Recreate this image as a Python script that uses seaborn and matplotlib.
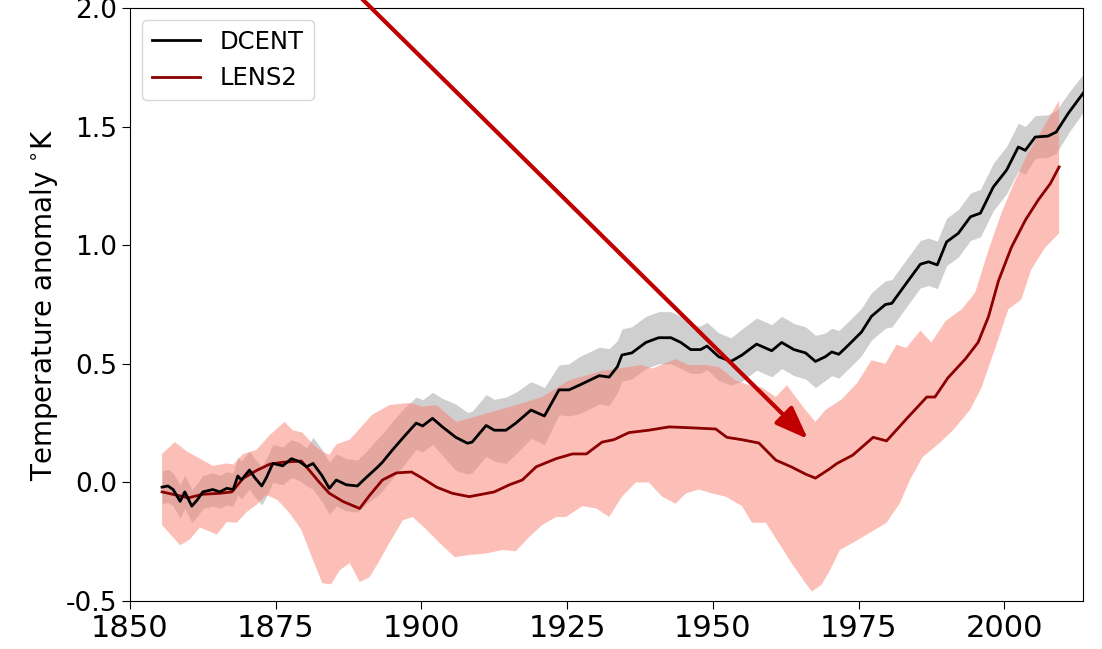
import numpy as np
import pandas as pd
import matplotlib
matplotlib.use("Agg")
import matplotlib.pyplot as plt
import seaborn as sns

# ---------------- data ----------------
dcent_year = [1855.5, 1856.5, 1857.4, 1858.6, 1859.4, 1860.6, 1861.5, 1862.5, 1864.2, 1865.4,
              1866.6, 1867.7, 1868.5, 1869.1, 1870.5, 1871.4, 1872.6, 1873.4, 1874.5, 1876.2,
              1877.7, 1879.1, 1880.3, 1881.4, 1882.9, 1884.2, 1885.4, 1887.1, 1889.0, 1890.5,
              1892.5, 1893.3, 1895.0, 1896.8, 1899.1, 1900.2, 1901.9, 1903.6, 1905.9, 1907.9,
              1908.7, 1911.1, 1912.5, 1914.5, 1916.2, 1918.8, 1921.1, 1923.6, 1925.3, 1927.1,
              1928.8, 1930.5, 1932.2, 1933.6, 1934.4, 1936.1, 1938.5, 1940.7, 1942.8, 1944.5,
              1946.2, 1947.9, 1949.0, 1951.0, 1953.1, 1955.0, 1957.5, 1960.1, 1961.8, 1963.9,
              1965.9, 1967.6, 1969.3, 1970.4, 1971.6, 1973.3, 1975.5, 1977.2, 1979.6, 1980.7,
              1983.2, 1985.6, 1987.0, 1988.5, 1990.1, 1992.1, 1994.2, 1995.9, 1998.1, 2000.4,
              2002.4, 2003.6, 2005.3, 2007.5, 2008.9, 2011.0, 2013.5]
dcent_val = [-0.02, -0.015, -0.03, -0.08, -0.04, -0.10, -0.075, -0.04, -0.03, -0.04,
             -0.025, -0.03, 0.027, 0.01, 0.052, 0.02, -0.015, 0.02, 0.08, 0.07,
             0.10, 0.087, 0.066, 0.08, 0.03, -0.025, 0.01, -0.01, -0.015, 0.02,
             0.065, 0.085, 0.136, 0.187, 0.25, 0.238, 0.27, 0.234, 0.19, 0.165,
             0.17, 0.24, 0.22, 0.22, 0.25, 0.305, 0.28, 0.39, 0.39, 0.41,
             0.43, 0.45, 0.444, 0.487, 0.537, 0.546, 0.59, 0.61, 0.61, 0.59,
             0.56, 0.56, 0.575, 0.53, 0.51, 0.537, 0.583, 0.555, 0.59, 0.56,
             0.546, 0.51, 0.53, 0.55, 0.54, 0.58, 0.634, 0.70, 0.75, 0.755,
             0.84, 0.92, 0.93, 0.917, 1.014, 1.05, 1.12, 1.135, 1.245, 1.317,
             1.414, 1.40, 1.456, 1.46, 1.477, 1.557, 1.64]
dcent_err = [0.07, 0.07, 0.07, 0.07, 0.07, 0.07, 0.07, 0.07, 0.07, 0.07,
             0.07, 0.07, 0.08, 0.08, 0.08, 0.08, 0.08, 0.08, 0.08, 0.08,
             0.08, 0.08, 0.08, 0.11, 0.11, 0.11, 0.11, 0.11, 0.11, 0.11,
             0.12, 0.12, 0.12, 0.12, 0.11, 0.11, 0.11, 0.12, 0.14, 0.13,
             0.13, 0.13, 0.13, 0.14, 0.13, 0.12, 0.12, 0.105, 0.11, 0.12,
             0.12, 0.12, 0.12, 0.11, 0.11, 0.11, 0.11, 0.11, 0.11, 0.11,
             0.10, 0.10, 0.10, 0.10, 0.10, 0.11, 0.11, 0.11, 0.11, 0.11,
             0.11, 0.11, 0.10, 0.10, 0.10, 0.10, 0.10, 0.10, 0.10, 0.10,
             0.10, 0.10, 0.10, 0.10, 0.10, 0.10, 0.10, 0.10, 0.10, 0.10,
             0.10, 0.10, 0.09, 0.09, 0.09, 0.085, 0.08]

lens2_year = [1855.5, 1858.6, 1860.0, 1862.5, 1865.4, 1867.5, 1869.4, 1871.7, 1874.0, 1876.2,
              1879.4, 1880.8, 1882.5, 1884.2, 1886.5, 1889.4, 1891.1, 1893.3, 1895.7, 1898.3,
              1900.2, 1902.6, 1905.3, 1908.2, 1910.4, 1912.5, 1915.1, 1917.3, 1919.7, 1923.1,
              1925.9, 1928.3, 1931.0, 1933.0, 1935.6, 1939.0, 1942.5, 1946.4, 1950.5, 1952.4,
              1955.0, 1957.9, 1960.8, 1963.5, 1965.9, 1967.6, 1969.9, 1971.3, 1974.0, 1977.5,
              1979.8, 1983.3, 1986.7, 1988.1, 1990.3, 1993.3, 1995.5, 1997.3, 1999.0, 2001.2,
              2003.6, 2005.8, 2007.9, 2009.4]
lens2_val = [-0.04, -0.057, -0.065, -0.05, -0.046, -0.04, 0.017, 0.05, 0.077, 0.085,
             0.09, 0.05, 0.0, -0.046, -0.08, -0.11, -0.055, 0.01, 0.04, 0.044,
             0.017, -0.02, -0.046, -0.06, -0.05, -0.04, -0.01, 0.01, 0.066, 0.10,
             0.12, 0.12, 0.17, 0.18, 0.21, 0.22, 0.234, 0.23, 0.225, 0.19,
             0.18, 0.166, 0.094, 0.065, 0.035, 0.018, 0.055, 0.08, 0.115, 0.19,
             0.175, 0.27, 0.36, 0.36, 0.44, 0.52, 0.59, 0.70, 0.85, 0.99,
             1.105, 1.19, 1.26, 1.33]

lens2_hi_year = [1855.5, 1857.7, 1859.8, 1862.0, 1864.2, 1866.6, 1867.7, 1869.4, 1871.7, 1874.0,
                 1876.5, 1877.9, 1879.6, 1881.4, 1883.0, 1884.2, 1885.4, 1887.7, 1889.9, 1891.5,
                 1894.5, 1897.9, 1900.2, 1902.6, 1906.0, 1908.2, 1913.9, 1916.8, 1920.7, 1925.3,
                 1931.0, 1933.6, 1935.6, 1937.8, 1939.6, 1943.6, 1945.9, 1948.8, 1951.0, 1953.9,
                 1956.2, 1958.4, 1960.8, 1962.7, 1964.2, 1965.9, 1967.6, 1969.3, 1972.1, 1974.8,
                 1977.2, 1979.6, 1981.5, 1983.2, 1985.6, 1987.5, 1989.9, 1992.7, 1995.0, 1997.3,
                 1999.5, 2001.9, 2004.1, 2006.3, 2009.4]
lens2_hi_val = [0.12, 0.17, 0.13, 0.10, 0.07, 0.08, 0.075, 0.12, 0.137, 0.20,
                0.255, 0.22, 0.21, 0.16, 0.13, 0.116, 0.16, 0.18, 0.24, 0.284,
                0.326, 0.335, 0.32, 0.326, 0.255, 0.27, 0.31, 0.33, 0.36, 0.43,
                0.47, 0.48, 0.487, 0.495, 0.48, 0.52, 0.495, 0.495, 0.487, 0.43,
                0.41, 0.40, 0.36, 0.41, 0.36, 0.305, 0.255, 0.305, 0.35, 0.42,
                0.515, 0.50, 0.58, 0.567, 0.64, 0.59, 0.68, 0.73, 0.80, 0.98,
                1.135, 1.275, 1.39, 1.48, 1.61]

lens2_lo_year = [1855.5, 1858.6, 1860.3, 1862.0, 1864.9, 1866.6, 1868.3, 1870.0, 1871.7, 1873.4,
                 1875.3, 1877.4, 1879.4, 1881.2, 1883.0, 1884.5, 1886.0, 1887.7, 1889.4, 1891.1,
                 1892.8, 1894.5, 1896.8, 1898.5, 1900.9, 1903.1, 1905.7, 1908.2, 1911.1, 1913.9,
                 1916.2, 1918.5, 1920.7, 1923.1, 1924.8, 1927.6, 1930.0, 1932.2, 1934.4, 1936.8,
                 1939.0, 1941.3, 1943.6, 1945.4, 1947.6, 1949.8, 1952.2, 1955.0, 1956.7, 1959.1,
                 1961.3, 1963.5, 1965.9, 1967.0, 1968.7, 1970.1, 1971.8, 1974.0, 1976.9, 1979.8,
                 1982.1, 1983.8, 1986.0, 1988.9, 1991.2, 1994.1, 1996.1, 1998.5, 2000.7, 2002.9,
                 2004.6, 2007.0, 2009.4]
lens2_lo_val = [-0.18, -0.265, -0.24, -0.19, -0.22, -0.167, -0.17, -0.125, -0.095, -0.053,
                -0.074, -0.13, -0.20, -0.315, -0.425, -0.43, -0.37, -0.34, -0.42, -0.40,
                -0.33, -0.255, -0.16, -0.146, -0.20, -0.255, -0.315, -0.306, -0.30, -0.285,
                -0.29, -0.23, -0.18, -0.146, -0.146, -0.10, -0.11, -0.146, -0.06, 0.0,
                0.0, -0.06, -0.09, -0.046, -0.03, -0.046, -0.06, -0.10, -0.17, -0.17,
                -0.255, -0.34, -0.425, -0.46, -0.43, -0.37, -0.285, -0.255, -0.213, -0.17,
                -0.087, 0.01, 0.107, 0.166, 0.22, 0.305, 0.40, 0.57, 0.73, 0.77,
                0.895, 0.99, 1.05]

x_ticks = [1850, 1875, 1900, 1925, 1950, 1975, 2000]
y_ticks = [-0.5, 0.0, 0.5, 1.0, 1.5, 2.0]
y_ticklabels = ["-0.5", "0.0", "0.5", "1.0", "1.5", "2.0"]

# arrow annotation (data coordinates: tip and tail)
arrow_tip = (1966.3, 0.183)
arrow_tail = (1884.8, 2.16)

# ---------------- figure ----------------
plt.rcParams['font.family'] = ['DejaVu Sans']
plt.rcParams['axes.unicode_minus'] = False

fig = plt.figure(figsize=(11.02, 6.49), dpi=100)
ax = fig.add_axes([130 / 1102, 48 / 649, 953 / 1102, 593 / 649])

dc = pd.DataFrame({'year': dcent_year, 'anom': dcent_val, 'err': dcent_err})
ln = pd.DataFrame({'year': lens2_year, 'anom': lens2_val})

ax.fill_between(dc['year'], dc['anom'] - dc['err'], dc['anom'] + dc['err'],
                color='#cfcfcf', lw=0, zorder=1)
poly_x = np.r_[np.array(lens2_hi_year), np.array(lens2_lo_year)[::-1]]
poly_y = np.r_[np.array(lens2_hi_val), np.array(lens2_lo_val)[::-1]]
ax.fill(poly_x, poly_y, color='salmon', alpha=0.5, lw=0, zorder=2)

sns.lineplot(data=dc, x='year', y='anom', color='black', lw=2, label='DCENT',
             ax=ax, zorder=4)
sns.lineplot(data=ln, x='year', y='anom', color='darkred', lw=2, label='LENS2',
             ax=ax, zorder=3)

ax.annotate('', xy=arrow_tip, xytext=arrow_tail,
            arrowprops=dict(arrowstyle='-|>,head_length=1.0,head_width=0.38',
                            mutation_scale=20, color='#c00000', lw=3,
                            shrinkA=0, shrinkB=0),
            annotation_clip=False, zorder=6)

ax.set_xlim(1850, 2013.5)
ax.set_ylim(-0.5, 2.0)
ax.set_xticks(x_ticks)
ax.set_yticks(y_ticks)
ax.set_yticklabels(y_ticklabels)
ax.tick_params(axis='x', labelsize=22, length=6, direction='out')
ax.tick_params(axis='y', labelsize=19, length=6, direction='out')
ax.set_xlabel('')
ax.set_ylabel('Temperature anomaly $^{\\circ}$K', fontsize=20)

ax.legend(loc='upper left', fontsize=17.5)

fig.savefig('out.png', dpi=100)
